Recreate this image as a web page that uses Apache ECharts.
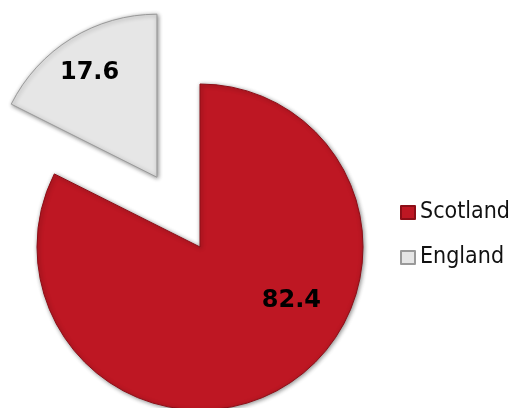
<!DOCTYPE html>
<html>
<head>
<meta charset="utf-8">
<script src="https://cdn.jsdelivr.net/npm/echarts@6/dist/echarts.min.js"></script>
<style>
  html, body { margin: 0; padding: 0; background: #ffffff; }
  #chart { width: 513px; height: 408px; }
</style>
</head>
<body>
<div id="chart"></div>
<script>
// Share by country (%)
const countries = ['Scotland', 'England'];
const shares = [82.4, 17.6];
const exploded = [false, true];

const sliceColors = ['#BE1723', '#E6E6E6'];
const edgeColors = ['#8C0E17', '#9A9A9A'];
// nudges that bring each value label to its spot inside the slice
const labelShift = [[47, -18], [-23, -33]];

const chart = echarts.init(document.getElementById('chart'), null, { renderer: 'canvas' });

const pieData = countries.map((name, i) => ({
  name: name,
  value: shares[i],
  selected: exploded[i],
  itemStyle: {
    color: sliceColors[i],
    borderColor: edgeColors[i],
    borderWidth: 1,
    shadowColor: 'rgba(0,0,0,0.45)',
    shadowBlur: 4,
    shadowOffsetX: 1,
    shadowOffsetY: 1
  }
}));

chart.setOption({
  animation: false,
  backgroundColor: '#ffffff',
  legend: {
    orient: 'vertical',
    left: 395,
    top: 196,
    itemWidth: 14,
    itemHeight: 13,
    itemGap: 22,
    icon: 'rect',
    selectedMode: false,
    textStyle: {
      fontFamily: 'DejaVu Sans Condensed',
      fontSize: 23,
      color: '#111111'
    },
    data: countries
  },
  series: [{
    type: 'pie',
    center: [200, 247],
    radius: [0, 163],
    startAngle: 90,
    clockwise: true,
    selectedMode: 'single',
    selectedOffset: 82,
    avoidLabelOverlap: false,
    emphasis: { disabled: true },
    label: {
      show: true,
      position: 'inside',
      formatter: p => p.value.toFixed(1),
      fontFamily: 'DejaVu Sans',
      fontWeight: 'bold',
      fontSize: 24,
      color: '#000000'
    },
    labelLayout: p => ({ dx: labelShift[p.dataIndex][0], dy: labelShift[p.dataIndex][1] }),
    labelLine: { show: false },
    data: pieData
  }]
});
</script>
</body>
</html>
